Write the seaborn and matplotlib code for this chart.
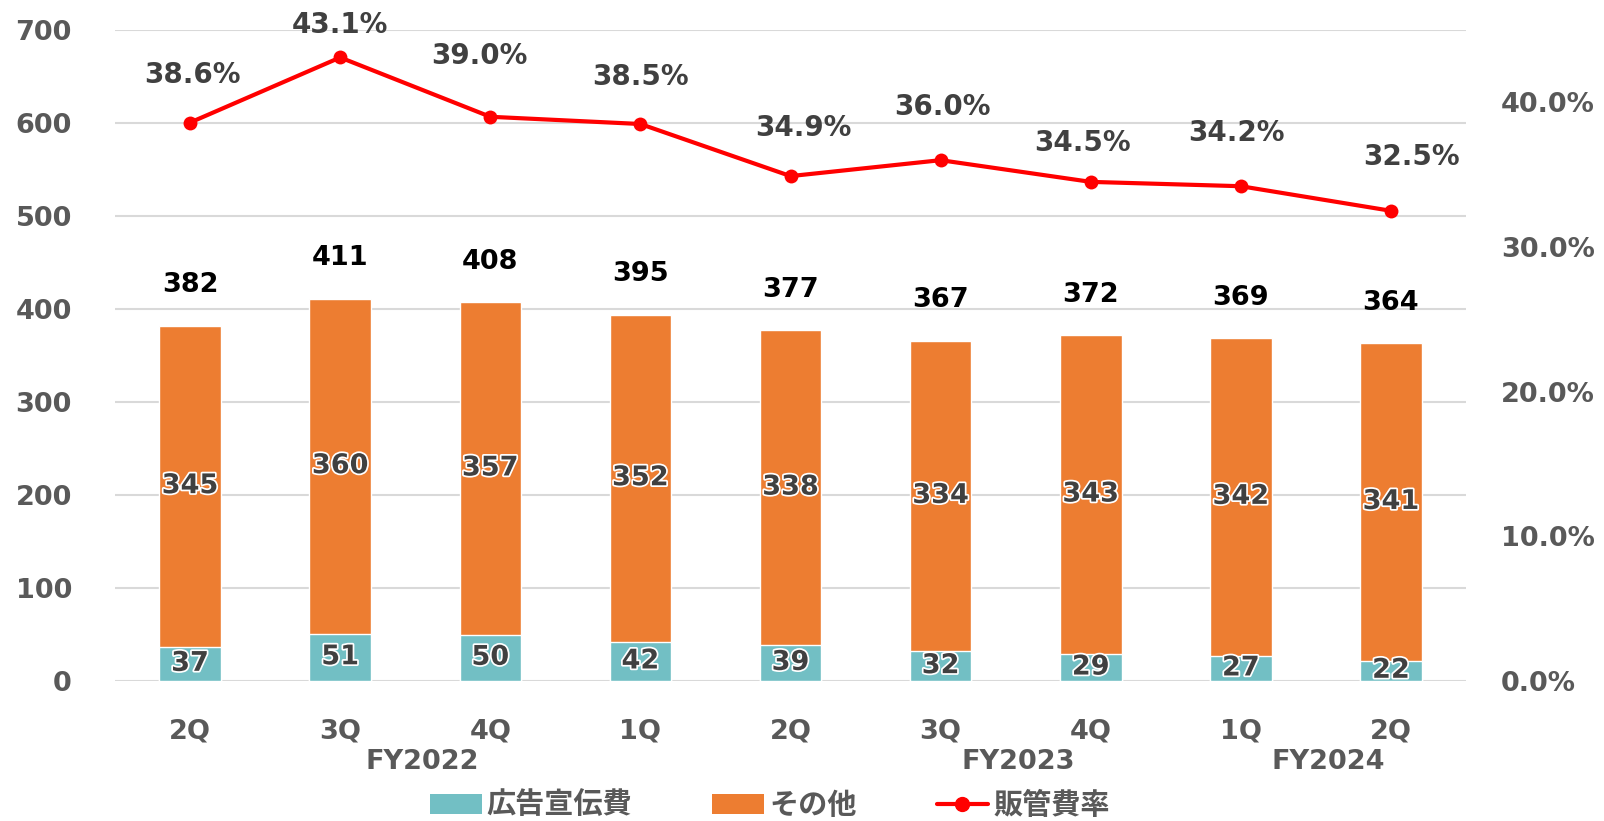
import matplotlib
matplotlib.use("Agg")
import matplotlib.pyplot as plt
import matplotlib.patheffects as pe
from matplotlib.patches import Patch
from matplotlib.lines import Line2D
import matplotlib.transforms as mtransforms
import seaborn as sns
import numpy as np
import pandas as pd

# data
quarters = ["2Q", "3Q", "4Q", "1Q", "2Q", "3Q", "4Q", "1Q", "2Q"]
fiscal_years = ["FY2022", "FY2023", "FY2024"]
fy_pos = [1.55, 5.52, 7.58]
ad_cost = [37, 51, 50, 42, 39, 32, 29, 27, 22]
other_cost = [345, 360, 357, 352, 338, 334, 343, 342, 341]
total_cost = [382, 411, 408, 395, 377, 367, 372, 369, 364]
sga_ratio = [38.6, 43.1, 39.0, 38.5, 34.9, 36.0, 34.5, 34.2, 32.5]

# label nudges for the ratio labels (points)
ratio_offsets = [(1.5, 34), (0, 23.5), (-8, 44), (0, 34), (9.5, 34.5),
                 (1.5, 38), (-6, 28), (-3, 38), (15, 39)]

TEAL = "#72BFC4"
ORANGE = "#ED7D31"
RED = "#FF0000"
GREY = "#595959"
DARK = "#404040"

sns.set_style("white")
plt.rcParams["font.family"] = ["DejaVu Sans", "Noto Sans CJK JP"]
plt.rcParams["font.weight"] = "bold"

df = pd.DataFrame({
    "idx": np.arange(len(quarters)),
    "ad": ad_cost,
    "stack": np.array(ad_cost) + np.array(other_cost),
    "ratio": sga_ratio,
})

fig = plt.figure(figsize=(16.04, 8.21), dpi=100)
ax = fig.add_axes([0.0717, 0.1705, 0.9140 - 0.0717, 0.9635 - 0.1705])

sns.barplot(data=df, x="idx", y="stack", color=ORANGE, width=0.41,
            saturation=1, ax=ax, zorder=2)
sns.barplot(data=df, x="idx", y="ad", color=TEAL, width=0.41,
            saturation=1, ax=ax, zorder=3)

ax.set_ylim(0, 700)
ax.set_xlim(-0.5, len(quarters) - 0.5)
ax.set_yticks(range(0, 701, 100))
ax.yaxis.grid(True, color="#D9D9D9", linewidth=1.5, zorder=0)
ax.set_axisbelow(True)
for s in ax.spines.values():
    s.set_visible(False)
ax.set_xlabel("")
ax.set_ylabel("")
ax.set_xticks(range(len(quarters)))
ax.set_xticklabels(quarters)
ax.tick_params(axis="x", length=0, pad=27, labelsize=19.5, labelcolor=GREY)
ax.tick_params(axis="y", length=0, pad=31, labelsize=19.5, labelcolor=GREY)
for t in ax.get_xticklabels() + ax.get_yticklabels():
    t.set_fontweight("bold")

glow = [pe.withStroke(linewidth=2.5, foreground="white")]
for i in range(len(quarters)):
    ax.text(i, ad_cost[i] / 2, str(ad_cost[i]), ha="center", va="center",
            fontsize=19.5, fontweight="bold", color=DARK, path_effects=glow, zorder=5)
    ax.text(i, ad_cost[i] + other_cost[i] / 2, str(other_cost[i]), ha="center",
            va="center", fontsize=19.5, fontweight="bold", color=DARK,
            path_effects=glow, zorder=5)
    ax.annotate(str(total_cost[i]), (i, ad_cost[i] + other_cost[i]),
                xytext=(0, 29), textcoords="offset points", ha="center",
                va="center", fontsize=19.5, fontweight="bold", color="black")

# fiscal-year second row of category labels
trans = mtransforms.blended_transform_factory(ax.transData, ax.transAxes)
for fy, xp in zip(fiscal_years, fy_pos):
    ax.text(xp, -0.125, fy, transform=trans, ha="center", va="center",
            fontsize=19.5, fontweight="bold", color=GREY)

ax2 = ax.twinx()
sns.lineplot(data=df, x="idx", y="ratio", color=RED, linewidth=3,
             marker="o", markersize=10, markeredgewidth=0, ax=ax2, zorder=6)
ax2.set_ylim(0, 45)
ax2.set_yticks([0, 10, 20, 30, 40])
ax2.set_yticklabels([f"{v:.1f}%" for v in [0, 10, 20, 30, 40]])
ax2.tick_params(axis="y", length=0, pad=25, labelsize=19.5, labelcolor=GREY)
for t in ax2.get_yticklabels():
    t.set_fontweight("bold")
ax2.set_ylabel("")
for s in ax2.spines.values():
    s.set_visible(False)

for i, (v, off) in enumerate(zip(sga_ratio, ratio_offsets)):
    ax2.annotate(f"{v:.1f}%", (i, v), xytext=off, textcoords="offset points",
                 ha="center", va="center", fontsize=20, fontweight="bold",
                 color=DARK)

handles = [
    Patch(facecolor=TEAL, edgecolor="none"),
    Patch(facecolor=ORANGE, edgecolor="none"),
    Line2D([0], [0], color=RED, linewidth=3, marker="o", markersize=10),
]
leg = fig.legend(handles, ["広告宣伝費", "その他", "販管費率"], loc="lower center",
                 bbox_to_anchor=(0.48, -0.031), ncol=3, frameon=False,
                 fontsize=21, handlelength=1.78, handleheight=0.7,
                 handletextpad=0.17, columnspacing=2.74)
for t in leg.get_texts():
    t.set_color(GREY)
    t.set_fontweight("bold")

fig.savefig("out.png", dpi=100)
